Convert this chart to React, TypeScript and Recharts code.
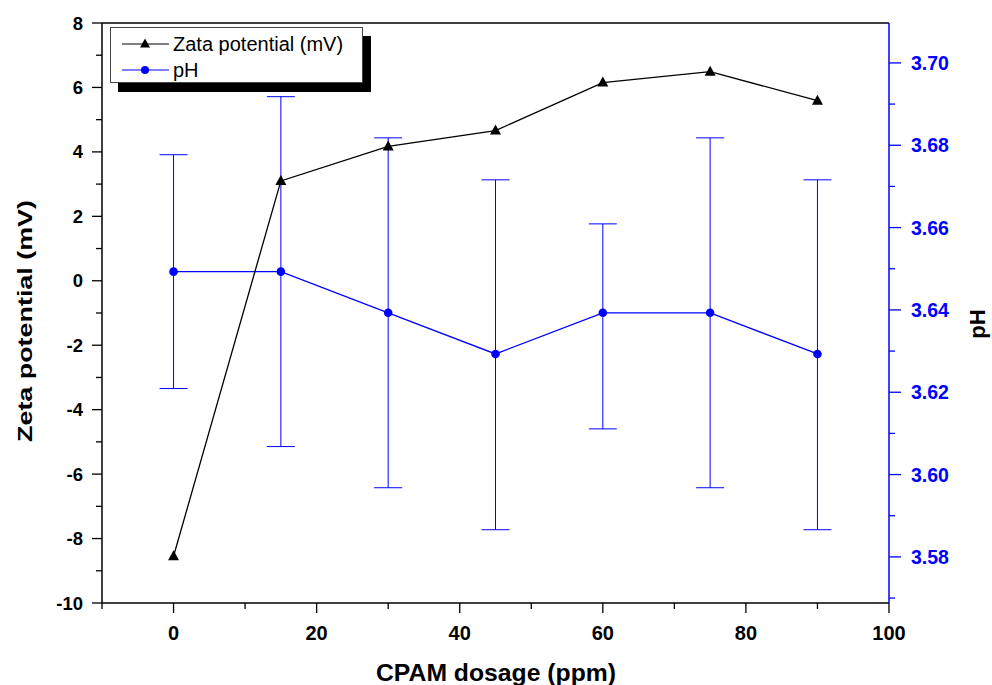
import React from 'react';
import { ComposedChart, Line, XAxis, YAxis, ErrorBar, ReferenceLine, Legend, Label } from 'recharts';

const dosage = [0, 15, 30, 45, 60, 75, 90];
const zeta = [-8.55, 3.1, 4.17, 4.66, 6.15, 6.49, 5.59];
const ph = [3.6493, 3.6493, 3.6393, 3.6293, 3.6393, 3.6393, 3.6293];
const phErrLow = [0.0284, 0.0425, 0.0425, 0.0427, 0.0282, 0.0425, 0.0427];
const phErrHigh = [0.0284, 0.0425, 0.0425, 0.0423, 0.0216, 0.0425, 0.0423];

const xTicks = [-10, 0, 10, 20, 30, 40, 50, 60, 70, 80, 90, 100];
const leftTicks = [-10, -9, -8, -7, -6, -5, -4, -3, -2, -1, 0, 1, 2, 3, 4, 5, 6, 7, 8];
const rightTicks = [3.57, 3.58, 3.59, 3.6, 3.61, 3.62, 3.63, 3.64, 3.65, 3.66, 3.67, 3.68, 3.69, 3.7];

const data = dosage.map((d, i) => ({
  dosage: d,
  zeta: zeta[i],
  ph: ph[i],
  phErr: [phErrLow[i], phErrHigh[i]],
}));

const FONT = '"Liberation Sans", Arial, Helvetica, sans-serif';
const BLUE = '#0000ff';

const LeftTick = (props: any) => {
  const { x, y, payload } = props;
  const v = payload.value;
  const major = Math.round(v) % 2 === 0;
  return (
    <g>
      <line x1={x} x2={x - (major ? 10 : 6)} y1={y} y2={y} stroke="#000" strokeWidth={1.3} />
      {major && (
        <text x={x - 19} y={y} textAnchor="end" dominantBaseline="central" fontFamily={FONT} fontWeight="bold" fontSize={18.5} fill="#000">
          {v}
        </text>
      )}
    </g>
  );
};

const RightTick = (props: any) => {
  const { x, y, payload } = props;
  const v = payload.value;
  const major = Math.round(v * 100) % 2 === 0;
  return (
    <g>
      <line x1={x} x2={x + (major ? 12 : 6)} y1={y} y2={y} stroke={BLUE} strokeWidth={1.3} />
      {major && (
        <text x={x + 22} y={y} textAnchor="start" dominantBaseline="central" fontFamily={FONT} fontWeight="bold" fontSize={19.5} fill={BLUE}>
          {v.toFixed(2)}
        </text>
      )}
    </g>
  );
};

const BottomTick = (props: any) => {
  const { x, y, payload } = props;
  const v = payload.value;
  const major = Math.round(v) % 20 === 0;
  return (
    <g>
      <line x1={x} x2={x} y1={y} y2={y + (major ? 10 : 6)} stroke="#000" strokeWidth={1.3} />
      {major && (
        <text x={x} y={y + 30} textAnchor="middle" dominantBaseline="central" fontFamily={FONT} fontWeight="bold" fontSize={20} fill="#000">
          {v}
        </text>
      )}
    </g>
  );
};

const Triangle = (props: any) => {
  const { cx, cy } = props;
  if (cx == null || cy == null) return null;
  return <polygon points={`${cx},${cy - 6} ${cx - 5.5},${cy + 4} ${cx + 5.5},${cy + 4}`} fill="#000" />;
};

const Circle = (props: any) => {
  const { cx, cy } = props;
  if (cx == null || cy == null) return null;
  return <circle cx={cx} cy={cy} r={4.3} fill={BLUE} />;
};

const LegendContent = () => (
  <div
    style={{
      position: 'relative',
      width: 253,
      height: 56,
      boxSizing: 'border-box',
      border: '1px solid #444',
      background: '#fff',
      boxShadow: '8px 9px 0 #000',
      fontFamily: FONT,
      fontSize: 20,
      color: '#000',
    }}
  >
    <svg width={60} height={56} style={{ position: 'absolute', left: 0, top: 0 }}>
      <line x1={11} x2={58} y1={16} y2={16} stroke="#000" strokeWidth={1.2} />
      <polygon points={`34,10.5 29,19.5 39,19.5`} fill="#000" />
      <line x1={11} x2={58} y1={42} y2={42} stroke={BLUE} strokeWidth={1.2} />
      <circle cx={34} cy={42} r={4} fill={BLUE} />
    </svg>
    <div style={{ position: 'absolute', left: 62, top: 16, transform: 'translateY(-50%)', lineHeight: 1, whiteSpace: 'nowrap' }}>
      Zata potential (mV)
    </div>
    <div style={{ position: 'absolute', left: 62, top: 42, transform: 'translateY(-50%)', lineHeight: 1, whiteSpace: 'nowrap' }}>
      pH
    </div>
  </div>
);

export default function App() {
  return (
    <div style={{ width: 992, height: 685, overflow: 'hidden' }}>
      <style>{'html, body { margin: 0; padding: 0; overflow: hidden; }'}</style>
      <ComposedChart width={992} height={685} data={data} margin={{ top: 23, right: 0, bottom: 0, left: 0 }}>
        <XAxis
          dataKey="dosage"
          type="number"
          domain={[-10, 100]}
          ticks={xTicks}
          interval={0}
          allowDataOverflow
          height={82}
          tickSize={0}
          tickMargin={0}
          tickLine={false}
          tick={BottomTick}
          axisLine={{ stroke: '#000', strokeWidth: 1.5 }}
        >
          <Label
            content={() => (
              <text
                x={496}
                y={681}
                textAnchor="middle"
                fontFamily={FONT}
                fontWeight="bold"
                fontSize={24}
                textLength={240}
                lengthAdjust="spacingAndGlyphs"
                fill="#000"
              >
                CPAM dosage (ppm)
              </text>
            )}
          />
        </XAxis>
        <YAxis
          yAxisId="left"
          orientation="left"
          width={102}
          domain={[-10, 8]}
          ticks={leftTicks}
          interval={0}
          allowDataOverflow
          tickSize={0}
          tickMargin={0}
          tickLine={false}
          tick={LeftTick}
          axisLine={{ stroke: '#000', strokeWidth: 1.5 }}
        >
          <Label
            content={() => (
              <text
                x={32}
                y={321}
                transform="rotate(-90, 32, 321)"
                textAnchor="middle"
                fontFamily={FONT}
                fontWeight="bold"
                fontSize={21}
                textLength={242}
                lengthAdjust="spacingAndGlyphs"
                fill="#000"
              >
                Zeta potential (mV)
              </text>
            )}
          />
        </YAxis>
        <YAxis
          yAxisId="right"
          orientation="right"
          width={103}
          domain={[3.5688, 3.7097]}
          ticks={rightTicks}
          interval={0}
          allowDataOverflow
          tickSize={0}
          tickMargin={0}
          tickLine={false}
          tick={RightTick}
          axisLine={{ stroke: BLUE, strokeWidth: 1.5 }}
        >
          <Label
            content={() => (
              <text
                x={985}
                y={324}
                transform="rotate(-90, 985, 324)"
                textAnchor="middle"
                fontFamily={FONT}
                fontWeight="bold"
                fontSize={22}
                fill="#000"
              >
                pH
              </text>
            )}
          />
        </YAxis>
        <ReferenceLine yAxisId="left" y={8} stroke="#000" strokeWidth={1.5} />
        <Line
          yAxisId="right"
          dataKey="ph"
          type="linear"
          stroke={BLUE}
          strokeWidth={1.3}
          dot={Circle}
          activeDot={false}
          isAnimationActive={false}
        >
          <ErrorBar dataKey="phErr" width={14} stroke={BLUE} strokeWidth={1} direction="y" isAnimationActive={false} />
        </Line>
        <Line
          yAxisId="left"
          dataKey="zeta"
          type="linear"
          stroke="#000"
          strokeWidth={1.3}
          dot={Triangle}
          activeDot={false}
          isAnimationActive={false}
        />
        <Legend
          layout="vertical"
          align="center"
          verticalAlign="middle"
          wrapperStyle={{ left: 110, top: 27, width: 253, height: 56 }}
          content={LegendContent}
        />
      </ComposedChart>
    </div>
  );
}
